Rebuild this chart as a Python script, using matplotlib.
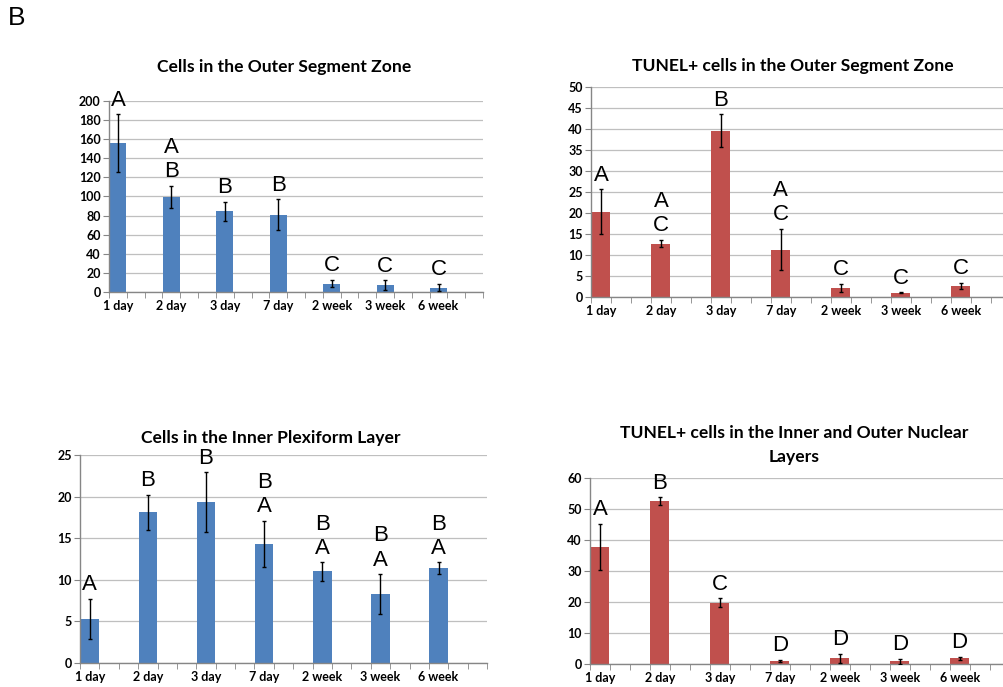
import matplotlib.pyplot as plt
import numpy as np

# time points
days = ['1 day', '2 day', '3 day', '7 day', '2 week', '3 week', '6 week']

# Cells in the Outer Segment Zone
osz_mean = [156, 99.5, 84.6, 81, 8.7, 7.3, 4.5]
osz_err = [30, 12, 10, 16, 4, 5, 4]
osz_letters = ['A', 'A\nB', 'B', 'B', 'C', 'C', 'C']

# TUNEL+ cells in the Outer Segment Zone
tosz_mean = [20.3, 12.7, 39.6, 11.3, 2.2, 1.0, 2.6]
tosz_err = [5.4, 0.9, 3.9, 4.9, 1.0, 0.1, 0.8]
tosz_letters = ['A', 'A\nC', 'B', 'A\nC', 'C', 'C', 'C']

# Cells in the Inner Plexiform Layer
ipl_mean = [5.3, 18.1, 19.3, 14.3, 11.0, 8.3, 11.4]
ipl_err = [2.4, 2.1, 3.6, 2.8, 1.1, 2.4, 0.7]
ipl_letters = ['A', 'B', 'B', 'B\nA', 'B\nA', 'B\nA', 'B\nA']

# TUNEL+ cells in the Inner and Outer Nuclear Layers
nl_mean = [37.8, 52.5, 19.8, 0.9, 1.8, 0.9, 1.8]
nl_err = [7.5, 1.3, 1.4, 0.4, 1.5, 0.8, 0.5]
nl_letters = ['A', 'B', 'C', 'D', 'D', 'D', 'D']

blue = '#4F81BD'
red = '#C0504D'
tick_font = 'Lato'

fig = plt.figure(figsize=(10.04, 6.87), dpi=100)


def panel(rect, mean, err, letters, color, ymax, ystep, title, title_xy):
    ax = fig.add_axes(rect)
    x = np.arange(len(mean)) * 3 + 0.5
    ax.bar(x, mean, width=0.95, color=color, edgecolor='none', zorder=2)
    ax.errorbar(x, mean, yerr=err, fmt='none', ecolor='black', elinewidth=1,
                capsize=1.5, capthick=1, zorder=3)
    for xi, m, e, lab in zip(x, mean, err, letters):
        ax.annotate(lab, (xi, m + e), xytext=(0, 2.5), textcoords='offset points',
                    ha='center', va='bottom', fontsize=16, family='Liberation Sans',
                    linespacing=1.2, annotation_clip=False)
    ax.set_xlim(0, 21)
    ax.set_ylim(0, ymax)
    ax.set_yticks(np.arange(0, ymax + 0.1, ystep))
    ax.set_xticks(x)
    ax.set_xticklabels(days)
    ax.set_xticks(np.arange(0, 22), minor=True)
    ax.tick_params(axis='x', which='major', length=0, pad=6)
    ax.tick_params(axis='x', which='minor', length=4, color='#868686')
    ax.tick_params(axis='y', length=4, color='#868686', pad=2)
    for lab in ax.get_xticklabels() + ax.get_yticklabels():
        lab.set_fontfamily(tick_font)
        lab.set_fontweight('bold')
        lab.set_fontsize(9)
    ax.grid(axis='y', color='#BFBFBF', linewidth=0.9, zorder=0)
    ax.set_axisbelow(True)
    for s in ['top', 'right']:
        ax.spines[s].set_visible(False)
    for s in ['left', 'bottom']:
        ax.spines[s].set_color('#868686')
        ax.spines[s].set_linewidth(1)
    fig.text(title_xy[0] / 1004, 1 - title_xy[1] / 687, title, ha='center', va='center',
             fontsize=12.6, fontweight='bold', family=tick_font, linespacing=1.6)
    return ax


panel([0.1086, 0.575, 0.3725, 0.278], osz_mean, osz_err, osz_letters, blue, 200, 20,
      'Cells in the Outer Segment Zone', (284, 67))
panel([0.5886, 0.5677, 0.418, 0.3057], tosz_mean, tosz_err, tosz_letters, red, 50, 5,
      'TUNEL+ cells in the Outer Segment Zone', (793, 66))
panel([0.0797, 0.0349, 0.4054, 0.3028], ipl_mean, ipl_err, ipl_letters, blue, 25, 5,
      'Cells in the Inner Plexiform Layer', (271, 438))
panel([0.5876, 0.0335, 0.418, 0.2707], nl_mean, nl_err, nl_letters, red, 60, 10,
      'TUNEL+ cells in the Inner and Outer Nuclear\nLayers', (794, 445))

fig.text(17 / 1004, 1 - 18 / 687, 'B', fontsize=19, family='Liberation Sans',
         ha='center', va='center')

fig.savefig('out.png', dpi=100)
